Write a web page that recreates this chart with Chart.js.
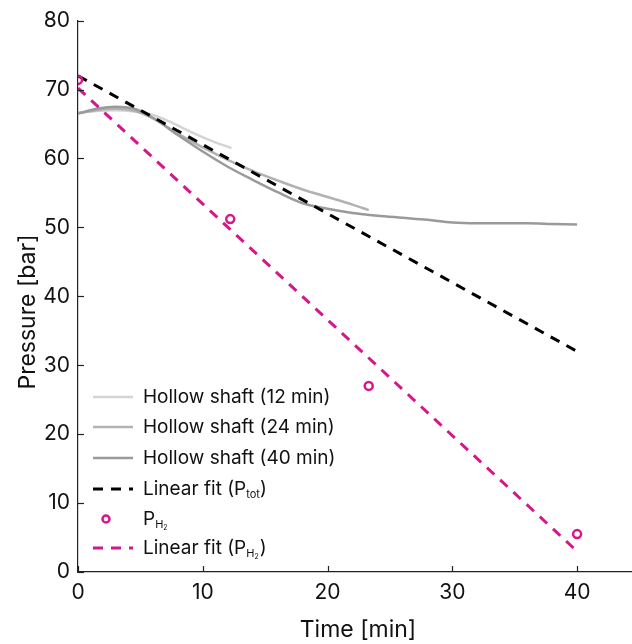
<!DOCTYPE html>
<html>
<head>
<meta charset="utf-8">
<script src="https://cdn.jsdelivr.net/npm/chart.js@4"></script>
<style>
  html, body { margin: 0; padding: 0; background: #fff; }
  #wrap { width: 632px; height: 644px; }
</style>
</head>
<body>
<div id="wrap"><canvas id="chart" width="632" height="644"></canvas></div>
<script>
// hollow shaft runs (time in min, pressure in bar)
var t12 = [0, 1.5, 3, 4.5, 6, 7.5, 9, 10.5, 12.3];
var p12 = [66.6, 66.9, 67.0, 66.8, 66.3, 65.2, 63.9, 62.7, 61.5];
var t24 = [0, 1.5, 3, 4.5, 6, 8, 10, 12, 14, 16, 18, 20, 22, 23.3];
var p24 = [66.6, 67.0, 67.2, 66.9, 65.8, 63.6, 61.6, 59.8, 58.2, 56.8, 55.5, 54.4, 53.3, 52.5];
var t40 = [0, 1.5, 3, 4.5, 6, 8, 10, 12, 14, 16, 18, 20, 22, 24, 26, 28, 30, 32, 34, 36, 38, 40];
var p40 = [66.5, 67.2, 67.5, 67.2, 65.9, 63.4, 61.0, 58.8, 56.9, 55.1, 53.5, 52.7, 52.1, 51.7, 51.4, 51.1, 50.7, 50.6, 50.6, 50.6, 50.5, 50.4];
// linear fit of total pressure
var fitTotT = [0, 40];
var fitTotP = [72.0, 32.0];
// measured H2 partial pressure
var h2T = [0, 12.2, 23.3, 40];
var h2P = [71.4, 51.2, 27.0, 5.5];
// linear fit of H2 partial pressure
var fitH2T = [0, 40];
var fitH2P = [70.2, 3.0];

var xTicks = [0, 10, 20, 30, 40];
var yTicks = [0, 10, 20, 30, 40, 50, 60, 70, 80];

var FONT = "Inter, 'Noto Sans', sans-serif";
var MAGENTA = "#d6168b";

function pts(xs, ys) {
  return xs.map(function (x, i) { return { x: x, y: ys[i] }; });
}

// inward ticks, axis titles and the in-plot legend
var decor = {
  id: "decor",
  afterDraw: function (chart) {
    var c = chart.ctx, a = chart.chartArea;
    var xs = chart.scales.x, ys = chart.scales.y;
    c.save();
    c.strokeStyle = "#222";
    c.lineWidth = 1.2;
    xTicks.forEach(function (v) {
      var px = Math.round(xs.getPixelForValue(v)) + 0.5;
      c.beginPath(); c.moveTo(px, a.bottom); c.lineTo(px, a.bottom - 6); c.stroke();
    });
    yTicks.forEach(function (v) {
      var py = Math.round(ys.getPixelForValue(v)) + 0.5;
      c.beginPath(); c.moveTo(a.left, py); c.lineTo(a.left + 6, py); c.stroke();
    });

    // axis titles
    c.fillStyle = "#111";
    c.font = "23px " + FONT;
    c.textAlign = "center";
    c.textBaseline = "middle";
    c.fillText("Time [min]", 358, 630);
    c.save();
    c.translate(28, 312);
    c.rotate(-Math.PI / 2);
    c.fillText("Pressure [bar]", 0, 0);
    c.restore();

    // legend
    var ds = chart.data.datasets;
    var x0 = 93, x1 = 133, tx = 143;
    var rows = [397, 427, 458, 489, 519, 548];
    c.textAlign = "left";
    for (var i = 0; i < ds.length; i++) {
      var d = ds[i], y = rows[i];
      c.save();
      if (d.showLine === false) {
        c.beginPath();
        c.arc((x0 + x1) / 2 - 7, y, 3.5, 0, Math.PI * 2);
        c.lineWidth = 2.5;
        c.strokeStyle = d.borderColor;
        c.stroke();
      } else {
        c.beginPath();
        c.setLineDash(d.borderDash || []);
        c.lineWidth = d.borderWidth;
        c.strokeStyle = d.borderColor;
        c.moveTo(x0, y); c.lineTo(x1, y); c.stroke();
      }
      c.restore();
      c.fillStyle = "#111";
      c.font = "19px " + FONT;
      var cx = tx;
      d.legendParts.forEach(function (p) {
        if (p.sub) {
          c.font = "11px " + FONT;
          c.fillText(p.t, cx, y + 6);
          cx += c.measureText(p.t).width;
          if (p.sub2) {
            c.font = "7px " + FONT;
            c.fillText(p.sub2, cx, y + 9);
            cx += c.measureText(p.sub2).width + 1;
          }
          c.font = "19px " + FONT;
        } else {
          c.fillText(p.t, cx, y);
          cx += c.measureText(p.t).width;
        }
      });
    }
    c.restore();
  }
};

new Chart(document.getElementById("chart"), {
  type: "line",
  data: {
    datasets: [
      {
        label: "Hollow shaft (12 min)",
        legendParts: [{ t: "Hollow shaft (12 min)" }],
        data: pts(t12, p12),
        borderColor: "#d4d4d4", borderWidth: 2.5,
        pointRadius: 0, cubicInterpolationMode: "monotone", order: 6
      },
      {
        label: "Hollow shaft (24 min)",
        legendParts: [{ t: "Hollow shaft (24 min)" }],
        data: pts(t24, p24),
        borderColor: "#b2b2b2", borderWidth: 2.5,
        pointRadius: 0, cubicInterpolationMode: "monotone", order: 5
      },
      {
        label: "Hollow shaft (40 min)",
        legendParts: [{ t: "Hollow shaft (40 min)" }],
        data: pts(t40, p40),
        borderColor: "#9a9a9a", borderWidth: 2.5,
        pointRadius: 0, cubicInterpolationMode: "monotone", order: 4
      },
      {
        label: "Linear fit (Ptot)",
        legendParts: [{ t: "Linear fit (P" }, { t: "tot", sub: true }, { t: ")" }],
        data: pts(fitTotT, fitTotP),
        borderColor: "#000", borderWidth: 3, borderDash: [10, 8],
        pointRadius: 0, order: 3
      },
      {
        label: "PH2",
        legendParts: [{ t: "P" }, { t: "H", sub: true, sub2: "2" }],
        data: pts(h2T, h2P),
        showLine: false,
        borderColor: MAGENTA, backgroundColor: "rgba(0,0,0,0)",
        pointRadius: 4, pointBorderWidth: 2.5, pointStyle: "circle", order: 1
      },
      {
        label: "Linear fit (PH2)",
        legendParts: [{ t: "Linear fit (P" }, { t: "H", sub: true, sub2: "2" }, { t: ")" }],
        data: pts(fitH2T, fitH2P),
        borderColor: MAGENTA, borderWidth: 3, borderDash: [10, 8],
        pointRadius: 0, order: 2
      }
    ]
  },
  options: {
    responsive: false,
    animation: false,
    layout: { autoPadding: false, padding: { top: 20, right: 0, left: 0, bottom: 0 } },
    plugins: { legend: { display: false }, tooltip: { enabled: false } },
    scales: {
      x: {
        type: "linear", min: 0, max: 44.4,
        afterBuildTicks: function (s) { s.ticks = xTicks.map(function (v) { return { value: v }; }); },
        afterFit: function (s) { s.height = 72; },
        grid: { display: false, drawTicks: false },
        border: { display: true, color: "#222", width: 1.2 },
        ticks: { color: "#111", padding: 8, font: { family: FONT, size: 21 } },
        title: { display: false }
      },
      y: {
        type: "linear", min: 0, max: 80,
        afterBuildTicks: function (s) { s.ticks = yTicks.map(function (v) { return { value: v }; }); },
        afterFit: function (s) { s.width = 78; },
        grid: { display: false, drawTicks: false },
        border: { display: true, color: "#222", width: 1.2 },
        ticks: { color: "#111", padding: 8, font: { family: FONT, size: 21 } },
        title: { display: false }
      }
    }
  },
  plugins: [decor]
});
</script>
</body>
</html>
